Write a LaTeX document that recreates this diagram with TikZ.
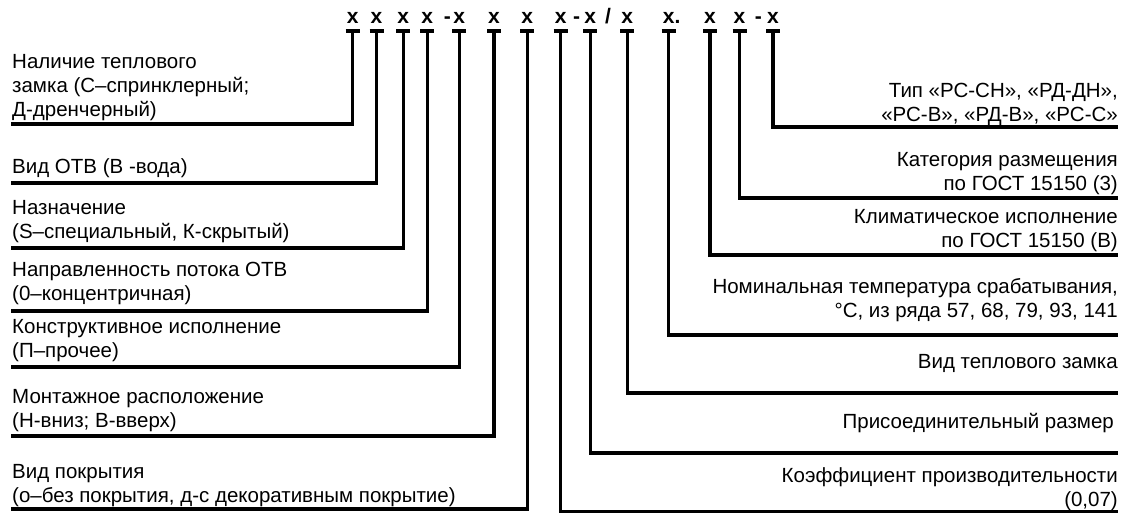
\documentclass[tikz,border=0pt]{standalone}
\usepackage{fontspec}
\setmainfont{Liberation Sans}
\usetikzlibrary{positioning}

\tikzset{
	code/.style={inner sep=0pt, anchor=base, font=\fontsize{21}{24}\selectfont\bfseries},
	tbar/.style={line width=4pt},
	lead/.style={line width=3.2pt, line join=miter},
	lbl/.style={inner sep=0pt, font=\fontsize{20.5}{24}\selectfont}
}

\begin{document}
\begin{tikzpicture}[x=1pt, y=-1pt]
		\useasboundingbox (0, 0) rectangle (1128, 513);
		% code letters
		\node[code] (c1) at (352.7, 23.5) {x};
		\node[code] (c2) at (376.5, 23.5) {x};
		\node[code] (c3) at (403.3, 23.5) {x};
		\node[code] (c4) at (427.3, 23.5) {x};
		\node[code] (s1) at (447.3, 23.5) {-};
		\node[code] (c5) at (459.3, 23.5) {x};
		\node[code] (c6) at (494, 23.5) {x};
		\node[code] (c7) at (527.3, 23.5) {x};
		\node[code] (c8) at (560.7, 23.5) {x};
		\node[code] (s2) at (576.7, 23.5) {-};
		\node[code] (c9) at (590.3, 23.5) {x};
		\node[code] (s3) at (608, 23.5) {/};
		\node[code] (c10) at (627.3, 23.5) {x};
		\node[code] (c11) at (668.7, 23.5) {x};
		\node[code] (s4) at (677.5, 23.5) {.};
		\node[code] (c12) at (710, 23.5) {x};
		\node[code] (c13) at (739.5, 23.5) {x};
		\node[code] (s5) at (758.3, 23.5) {-};
		\node[code] (c14) at (773, 23.5) {x};
		% tops of the leads
		\coordinate (t1) at (352.7, 31.5);
		\coordinate (t2) at (376.5, 31.5);
		\coordinate (t3) at (403.3, 31.5);
		\coordinate (t4) at (427.3, 31.5);
		\coordinate (t5) at (459.3, 31.5);
		\coordinate (t6) at (494, 31.5);
		\coordinate (t7) at (527.3, 31.5);
		\coordinate (t8) at (560.7, 31.5);
		\coordinate (t9) at (590.3, 31.5);
		\coordinate (t10) at (627.3, 31.5);
		\coordinate (t11) at (668.7, 31.5);
		\coordinate (t12) at (710, 31.5);
		\coordinate (t13) at (739.5, 31.5);
		\coordinate (t14) at (773, 31.5);
		% ends of the leads
		\coordinate (e1) at (11, 124);
		\coordinate (e2) at (11, 183);
		\coordinate (e3) at (11, 248);
		\coordinate (e4) at (11, 311);
		\coordinate (e5) at (11, 367);
		\coordinate (e6) at (11, 436);
		\coordinate (e7) at (11, 509);
		\coordinate (e8) at (1118, 512);
		\coordinate (e9) at (1118, 453);
		\coordinate (e10) at (1118, 393);
		\coordinate (e11) at (1118, 335);
		\coordinate (e12) at (1118, 255);
		\coordinate (e13) at (1118, 198);
		\coordinate (e14) at (1118, 127);
		% left labels
		\node[lbl, align=left, above right=3pt and 1pt of e1] (n1) {Наличие теплового\\замка (С–спринклерный;\\Д-дренчерный)};
		\node[lbl, align=left, above right=5pt and 1pt of e2] (n2) {Вид ОТВ (В -вода)};
		\node[lbl, align=left, above right=5pt and 1pt of e3] (n3) {Назначение\\(S–специальный, К-скрытый)};
		\node[lbl, align=left, above right=6pt and 1pt of e4] (n4) {Направленность потока ОТВ\\(0–концентричная)};
		\node[lbl, align=left, above right=5pt and 1pt of e5] (n5) {Конструктивное исполнение\\(П–прочее)};
		\node[lbl, align=left, above right=4pt and 1pt of e6] (n6) {Монтажное расположение\\(Н-вниз; В-вверх)};
		\node[lbl, align=left, above right=2pt and 1pt of e7] (n7) {Вид покрытия\\(о–без покрытия, д-с декоративным покрытие)};
		% right labels
		\node[lbl, align=right, above left=1pt and 0pt of e14] (n14) {Тип «РС-СН», «РД-ДН»,\\«РС-В», «РД-В», «РС-С»};
		\node[lbl, align=right, above left=3pt and 0pt of e13] (n13) {Категория размещения\\по ГОСТ 15150 (3)};
		\node[lbl, align=right, above left=3pt and 0pt of e12] (n12) {Климатическое исполнение\\по ГОСТ 15150 (В)};
		\node[lbl, align=right, above left=13pt and 0pt of e11] (n11) {Номинальная температура срабатывания,\\°С, из ряда 57, 68, 79, 93, 141};
		\node[lbl, align=right, above left=20pt and 0pt of e10] (n10) {Вид теплового замка};
		\node[lbl, align=right, above left=20pt and 4pt of e9] (n9) {Присоединительный размер};
		\node[lbl, align=right, above left=1pt and 0pt of e8] (n8) {Коэффициент производительности\\(0,07)};
		% T bars
		\draw[tbar] (t1) ++(-7, 0) -- ++(14, 0);
		\draw[tbar] (t2) ++(-7, 0) -- ++(14, 0);
		\draw[tbar] (t3) ++(-7, 0) -- ++(14, 0);
		\draw[tbar] (t4) ++(-7, 0) -- ++(14, 0);
		\draw[tbar] (t5) ++(-7, 0) -- ++(14, 0);
		\draw[tbar] (t6) ++(-7, 0) -- ++(14, 0);
		\draw[tbar] (t7) ++(-7, 0) -- ++(14, 0);
		\draw[tbar] (t8) ++(-7, 0) -- ++(14, 0);
		\draw[tbar] (t9) ++(-7, 0) -- ++(14, 0);
		\draw[tbar] (t10) ++(-7, 0) -- ++(14, 0);
		\draw[tbar] (t11) ++(-7, 0) -- ++(14, 0);
		\draw[tbar] (t12) ++(-7, 0) -- ++(14, 0);
		\draw[tbar] (t13) ++(-7, 0) -- ++(14, 0);
		\draw[tbar] (t14) ++(-7, 0) -- ++(14, 0);
		% leads
		\draw[lead] (t1) |- (e1);
		\draw[lead] (t2) |- (e2);
		\draw[lead] (t3) |- (e3);
		\draw[lead] (t4) |- (e4);
		\draw[lead] (t5) |- (e5);
		\draw[lead] (t6) |- (e6);
		\draw[lead] (t7) |- (e7);
		\draw[lead] (t8) |- (e8);
		\draw[lead] (t9) |- (e9);
		\draw[lead] (t10) |- (e10);
		\draw[lead] (t11) |- (e11);
		\draw[lead] (t12) |- (e12);
		\draw[lead] (t13) |- (e13);
		\draw[lead] (t14) |- (e14);
	\end{tikzpicture}
\end{document}
